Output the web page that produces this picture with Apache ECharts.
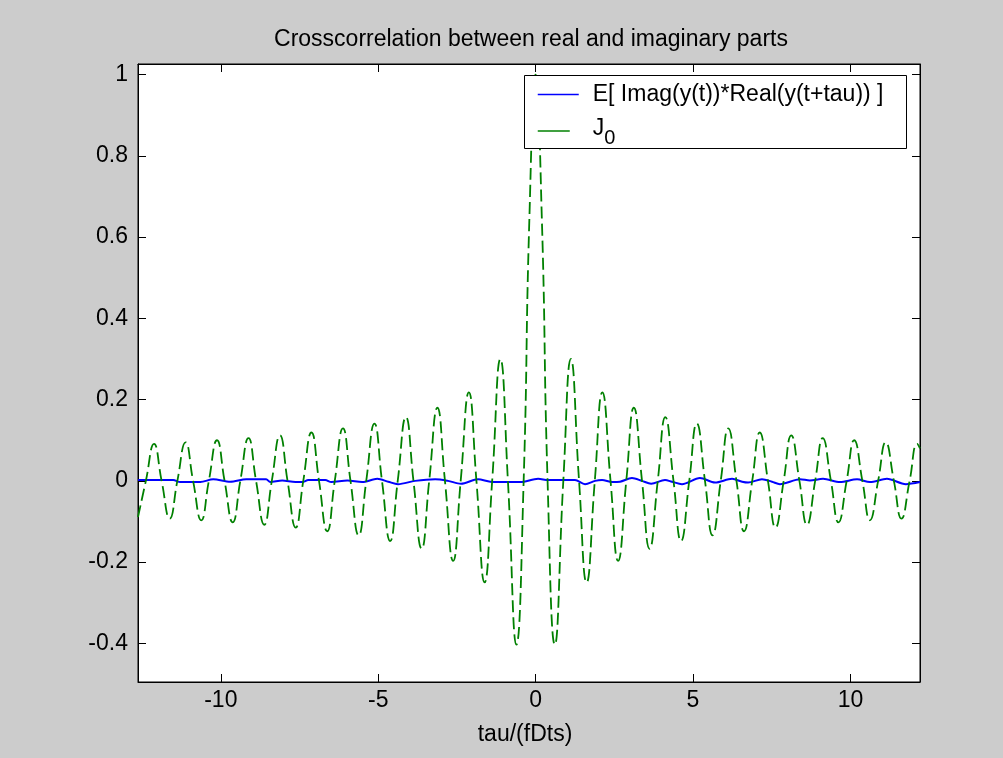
<!DOCTYPE html>
<html>
<head>
<meta charset="utf-8">
<script src="https://cdn.jsdelivr.net/npm/echarts@6/dist/echarts.min.js"></script>
<style>
html,body{margin:0;padding:0;background:#cccccc;}
#c{width:1003px;height:758px;}
</style>
</head>
<body>
<div id="c"></div>
<script>
// ---- text ----
const titleText = 'Crosscorrelation between real and imaginary parts';
const xAxisName = 'tau/(fDts)';
const seriesNames = ['E[ Imag(y(t))*Real(y(t+tau)) ]', 'J0'];

// ---- axes ----
const xTicks = [-10, -5, 0, 5, 10];
const yTicks = [-0.4, -0.2, 0, 0.2, 0.4, 0.6, 0.8, 1];
const xRange = [-12.63, 12.21];
const yRange = [-0.495, 1.026];

// ---- data: [tau, value] ----
const crossCorrPoints = [
  [-12.63, 0.002], [-11.51, 0.002], [-11.29, -0.003], [-10.65, -0.003], [-10.24, 0.004],
  [-9.70, -0.002], [-9.19, 0.004], [-8.56, 0.004], [-8.43, -0.003], [-8.05, 0.001],
  [-7.63, -0.003], [-7.41, -0.003], [-7.22, 0.002], [-6.68, 0.002], [-6.49, -0.003],
  [-5.98, 0.001], [-5.51, -0.003], [-5.03, 0.005], [-4.68, -0.002], [-4.37, -0.008],
  [-3.83, 0.000], [-3.19, 0.004], [-2.78, 0.000], [-2.37, -0.007], [-1.83, 0.004],
  [-1.44, -0.002], [-0.90, -0.003], [-0.49, -0.003], [0.08, 0.005], [0.40, 0.002],
  [1.25, 0.002], [1.57, -0.008], [1.89, 0.000], [2.11, 0.002], [2.43, -0.003],
  [2.68, -0.002], [3.06, 0.007], [3.38, 0.000], [3.67, -0.007], [4.11, 0.002],
  [4.33, -0.002], [4.65, -0.008], [5.22, 0.007], [5.70, -0.004], [6.24, 0.005],
  [6.56, -0.002], [6.75, -0.004], [7.19, 0.004], [7.51, -0.002], [7.76, -0.008],
  [8.40, 0.004], [8.71, 0.001], [9.13, 0.005], [9.67, -0.003], [10.21, 0.004],
  [10.62, -0.003], [11.16, 0.005], [11.76, -0.008], [12.21, -0.003]
];

const j0Points = [
  [-12.63, -0.089], [-12.38, 0], [-12.12, 0.091], [-11.88, 0], [-11.62, -0.093],
  [-11.38, 0], [-11.12, 0.095], [-10.88, 0], [-10.62, -0.097], [-10.38, 0],
  [-10.12, 0.100], [-9.88, 0], [-9.62, -0.102], [-9.38, 0], [-9.12, 0.105],
  [-8.88, 0], [-8.62, -0.108], [-8.38, 0], [-8.12, 0.112], [-7.88, 0],
  [-7.62, -0.115], [-7.38, 0], [-7.12, 0.119], [-6.88, 0], [-6.62, -0.124],
  [-6.38, 0], [-6.12, 0.129], [-5.88, 0], [-5.62, -0.134], [-5.38, 0],
  [-5.12, 0.141], [-4.88, 0], [-4.62, -0.148], [-4.38, 0], [-4.12, 0.157],
  [-3.88, 0], [-3.62, -0.167], [-3.38, 0], [-3.12, 0.180], [-2.88, 0],
  [-2.62, -0.197], [-2.38, 0], [-2.12, 0.218], [-1.88, 0], [-1.62, -0.250],
  [-1.38, 0], [-1.12, 0.300], [-0.88, 0], [-0.61, -0.403], [-0.38, 0],
  [-0.20, 0.640], [0, 1.000], [0.20, 0.640],
  [0.38, 0], [0.61, -0.403], [0.88, 0], [1.12, 0.300], [1.38, 0],
  [1.62, -0.250], [1.88, 0], [2.12, 0.218], [2.38, 0], [2.62, -0.197],
  [2.88, 0], [3.12, 0.180], [3.38, 0], [3.62, -0.167], [3.88, 0],
  [4.12, 0.157], [4.38, 0], [4.62, -0.148], [4.88, 0], [5.12, 0.141],
  [5.38, 0], [5.62, -0.134], [5.88, 0], [6.12, 0.129], [6.38, 0],
  [6.62, -0.124], [6.88, 0], [7.12, 0.119], [7.38, 0], [7.62, -0.115],
  [7.88, 0], [8.12, 0.112], [8.38, 0], [8.62, -0.108], [8.88, 0],
  [9.12, 0.105], [9.38, 0], [9.62, -0.102], [9.88, 0], [10.12, 0.100],
  [10.38, 0], [10.62, -0.097], [10.88, 0], [11.12, 0.095], [11.38, 0],
  [11.62, -0.093], [11.88, 0], [12.12, 0.091], [12.21, 0.080]
];

// ---- chart ----
const FONT = "'Liberation Sans', Arial, Helvetica, sans-serif";
const FS = 23;
const chart = echarts.init(document.getElementById('c'), null, { renderer: 'canvas' });

function axisBase(ticks, showLabels, labelMargin) {
  return {
    type: 'value',
    axisLine: { show: true, onZero: false, lineStyle: { color: '#000', width: 1 } },
    axisTick: { show: true, inside: true, length: 8, customValues: ticks, lineStyle: { color: '#000', width: 1 } },
    axisLabel: showLabels
      ? { show: true, customValues: ticks, margin: labelMargin, color: '#000', fontSize: FS, fontFamily: FONT }
      : { show: false },
    splitLine: { show: false }
  };
}

const legendRich = {
  j: { fontFamily: FONT, fontSize: FS, color: '#000', lineHeight: 40, verticalAlign: 'middle' },
  sub: { fontFamily: FONT, fontSize: 20, color: '#000', lineHeight: 23, verticalAlign: 'bottom' }
};

const option = {
  backgroundColor: '#cccccc',
  animation: false,
  title: {
    text: titleText,
    left: 526,
    top: 23,
    textAlign: 'center',
    textStyle: { fontFamily: FONT, fontSize: FS, fontWeight: 'normal', color: '#000' }
  },
  grid: {
    left: 138, right: 83, top: 64, bottom: 76,
    show: true, backgroundColor: '#ffffff', borderColor: '#000', borderWidth: 1
  },
  xAxis: [
    Object.assign(axisBase(xTicks, true, 7), {
      position: 'bottom', min: xRange[0], max: xRange[1],
      name: xAxisName, nameLocation: 'middle', nameGap: 41,
      nameTextStyle: { fontFamily: FONT, fontSize: FS, color: '#000', padding: [0, 8, 0, 0] }
    }),
    Object.assign(axisBase(xTicks, false, 0), { position: 'top', min: xRange[0], max: xRange[1] })
  ],
  yAxis: [
    Object.assign(axisBase(yTicks, true, 10), { position: 'left', min: yRange[0], max: yRange[1] }),
    Object.assign(axisBase(yTicks, false, 0), { position: 'right', min: yRange[0], max: yRange[1] })
  ],
  legend: {
    orient: 'vertical',
    left: 537,
    top: 83,
    padding: 0,
    itemGap: 11,
    itemWidth: 41,
    itemHeight: 14,
    z: 10,
    selectedMode: false,
    itemStyle: { opacity: 0 },
    data: [
      {
        name: seriesNames[0], itemStyle: { opacity: 0 },
        lineStyle: { type: 'solid', width: 1.5, color: '#0000ff' },
        textStyle: { fontFamily: FONT, fontSize: FS, color: '#000', padding: [0, 0, 0, 9] }
      },
      {
        name: seriesNames[1], itemStyle: { opacity: 0 },
        lineStyle: { type: [32, 20], width: 1.5, color: '#008000' },
        textStyle: { fontFamily: FONT, fontSize: FS, color: '#000', padding: [0, 0, 5, 9], rich: legendRich }
      }
    ],
    formatter: function (n) { return n === 'J0' ? '{j|J}{sub|0}' : n; },
    textStyle: {
      fontFamily: FONT, fontSize: FS, color: '#000', padding: [0, 0, 0, 9],
      rich: legendRich
    }
  },
  graphic: [
    {
      type: 'rect', z: 8,
      shape: { x: 524.5, y: 75.5, width: 382, height: 73 },
      style: { fill: '#ffffff', stroke: '#000000', lineWidth: 1 }
    }
  ],
  series: [
    {
      name: seriesNames[0], type: 'line', data: crossCorrPoints,
      symbol: 'none', smooth: 0.3, z: 2,
      lineStyle: { color: '#0000ff', width: 2 }, itemStyle: { color: '#0000ff' }
    },
    {
      name: seriesNames[1], type: 'line', data: j0Points,
      symbol: 'none', smooth: 0.5, z: 3,
      lineStyle: { color: '#008000', width: 1.8, type: [12, 5] }, itemStyle: { color: '#008000' }
    }
  ]
};
chart.setOption(option);
</script>
</body>
</html>
